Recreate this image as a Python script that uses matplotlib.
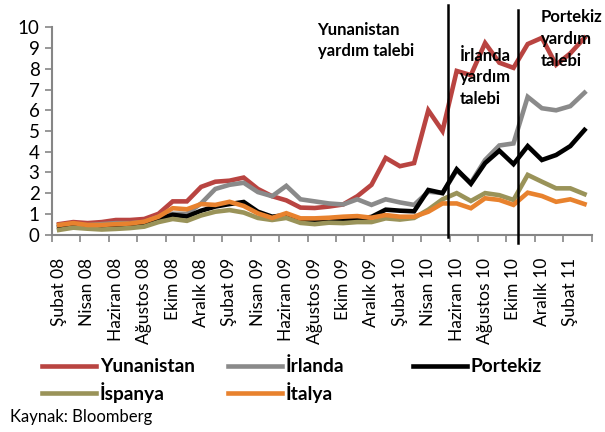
import matplotlib.pyplot as plt
from matplotlib.lines import Line2D
import numpy as np

plt.rcParams['font.family'] = ['Lato', 'DejaVu Sans']

# month labels (every second month is labelled)
tick_labels = ['Şubat 08', 'Nisan 08', 'Haziran 08', 'Ağustos 08', 'Ekim 08', 'Aralık 08',
               'Şubat 09', 'Nisan 09', 'Haziran 09', 'Ağustos 09', 'Ekim 09', 'Aralık 09',
               'Şubat 10', 'Nisan 10', 'Haziran 10', 'Ağustos 10', 'Ekim 10', 'Aralık 10',
               'Şubat 11']

# monthly spreads, Feb 2008 - Mar 2011
yunanistan = [0.50, 0.60, 0.55, 0.60, 0.70, 0.70, 0.75, 1.00, 1.60, 1.60,
              2.30, 2.55, 2.60, 2.75, 2.20, 1.85, 1.65, 1.30, 1.28, 1.35,
              1.45, 1.85, 2.40, 3.70, 3.30, 3.45, 6.00, 5.00, 7.90, 7.70,
              9.25, 8.30, 8.05, 9.20, 9.50, 8.20, 8.75, 9.50]
irlanda = [0.45, 0.50, 0.45, 0.50, 0.55, 0.55, 0.60, 0.85, 1.00, 1.00,
           1.50, 2.20, 2.40, 2.50, 2.05, 1.85, 2.35, 1.70, 1.60, 1.50,
           1.45, 1.70, 1.43, 1.70, 1.55, 1.43, 2.07, 2.00, 3.10, 2.50,
           3.60, 4.30, 4.40, 6.65, 6.10, 6.00, 6.20, 6.85]
portekiz = [0.35, 0.40, 0.40, 0.40, 0.45, 0.50, 0.55, 0.75, 0.95, 0.87,
            1.15, 1.35, 1.47, 1.57, 1.10, 0.86, 0.94, 0.70, 0.65, 0.65,
            0.70, 0.75, 0.85, 1.20, 1.15, 1.12, 2.15, 2.00, 3.15, 2.45,
            3.45, 4.05, 3.40, 4.27, 3.60, 3.84, 4.27, 5.05]
ispanya = [0.22, 0.33, 0.28, 0.24, 0.27, 0.31, 0.38, 0.60, 0.75, 0.66,
           0.92, 1.10, 1.18, 1.06, 0.80, 0.70, 0.80, 0.56, 0.50, 0.57,
           0.55, 0.60, 0.60, 0.78, 0.72, 0.80, 1.20, 1.70, 2.00, 1.62,
           2.00, 1.90, 1.67, 2.88, 2.55, 2.23, 2.23, 1.95]
italya = [0.46, 0.55, 0.46, 0.46, 0.50, 0.53, 0.62, 0.86, 1.27, 1.22,
          1.47, 1.43, 1.58, 1.38, 1.02, 0.80, 1.03, 0.78, 0.78, 0.81,
          0.86, 0.89, 0.81, 0.94, 0.86, 0.86, 1.10, 1.50, 1.50, 1.27,
          1.75, 1.67, 1.43, 2.02, 1.86, 1.58, 1.70, 1.47]

names = ['Yunanistan', 'İrlanda', 'Portekiz', 'İspanya', 'İtalya']
series = [yunanistan, irlanda, portekiz, ispanya, italya]
colors = ['#B94441', '#8A8A8A', '#000000', '#9A9359', '#E8822E']

fig = plt.figure(figsize=(6.05, 4.32), dpi=100)
ax = fig.add_axes([52 / 605, 1 - 234.5 / 432, 539.6 / 605, 207 / 432])

x = np.arange(len(yunanistan))
for vals, col in zip(series, colors):
    ax.plot(x, vals, color=col, lw=3.3, solid_joinstyle='miter')

ax.set_xlim(-0.5, len(x) - 0.5)
ax.set_ylim(0, 10)
ax.set_yticks(range(0, 11))
ax.tick_params(axis='y', labelsize=13.5, length=5, width=1.2, color='#868686', pad=4)

# major ticks at group boundaries, labels on minor ticks
ax.set_xticks(np.arange(-0.5, len(x), 2))
ax.set_xticklabels([])
ax.set_xticks(np.arange(0, len(x), 2), minor=True)
ax.set_xticklabels(tick_labels, minor=True, rotation=90, fontsize=12.5)
ax.tick_params(axis='x', which='major', length=5, width=1.2, color='#868686')
ax.tick_params(axis='x', which='minor', length=0, pad=17)

for s in ['top', 'right']:
    ax.spines[s].set_visible(False)
for s in ['left', 'bottom']:
    ax.spines[s].set_color('#868686')
    ax.spines[s].set_linewidth(1.5)

# vertical event lines
ax.plot([27.4, 27.4], [-0.12, 11.1], color='black', lw=1.8, clip_on=False, zorder=5)
ax.plot([32.3, 32.3], [-0.4, 10.85], color='black', lw=1.8, clip_on=False, zorder=5)

ax.text(18.2, 10.25, 'Yunanistan\nyardım talebi', fontsize=12, fontweight='bold',
        va='top', ha='left', linespacing=1.35)
ax.text(28.2, 9.0, 'İrlanda\nyardım\ntalebi', fontsize=12, fontweight='bold',
        va='top', ha='left', linespacing=1.4)
ax.text(33.9, 10.9, 'Portekiz\nyardım\ntalebi', fontsize=12, fontweight='bold',
        va='top', ha='left', linespacing=1.45)

# legend drawn by hand to keep fixed column widths
col_x = [42, 228, 413]
row_y = [366, 393]
for i, (name, col) in enumerate(zip(names, colors)):
    cx = col_x[i % 3]
    ry = row_y[i // 3]
    fig.add_artist(Line2D([cx / 605, (cx + 54) / 605], [1 - ry / 432, 1 - ry / 432],
                          color=col, lw=3.3))
    fig.text((cx + 58) / 605, 1 - ry / 432, name, fontsize=13.8, fontweight='bold',
             va='center', ha='left')

fig.text(10 / 605, 1 - 417 / 432, 'Kaynak: Bloomberg', fontsize=12, va='center', ha='left')

plt.savefig('out.png', dpi=100)
plt.close()
